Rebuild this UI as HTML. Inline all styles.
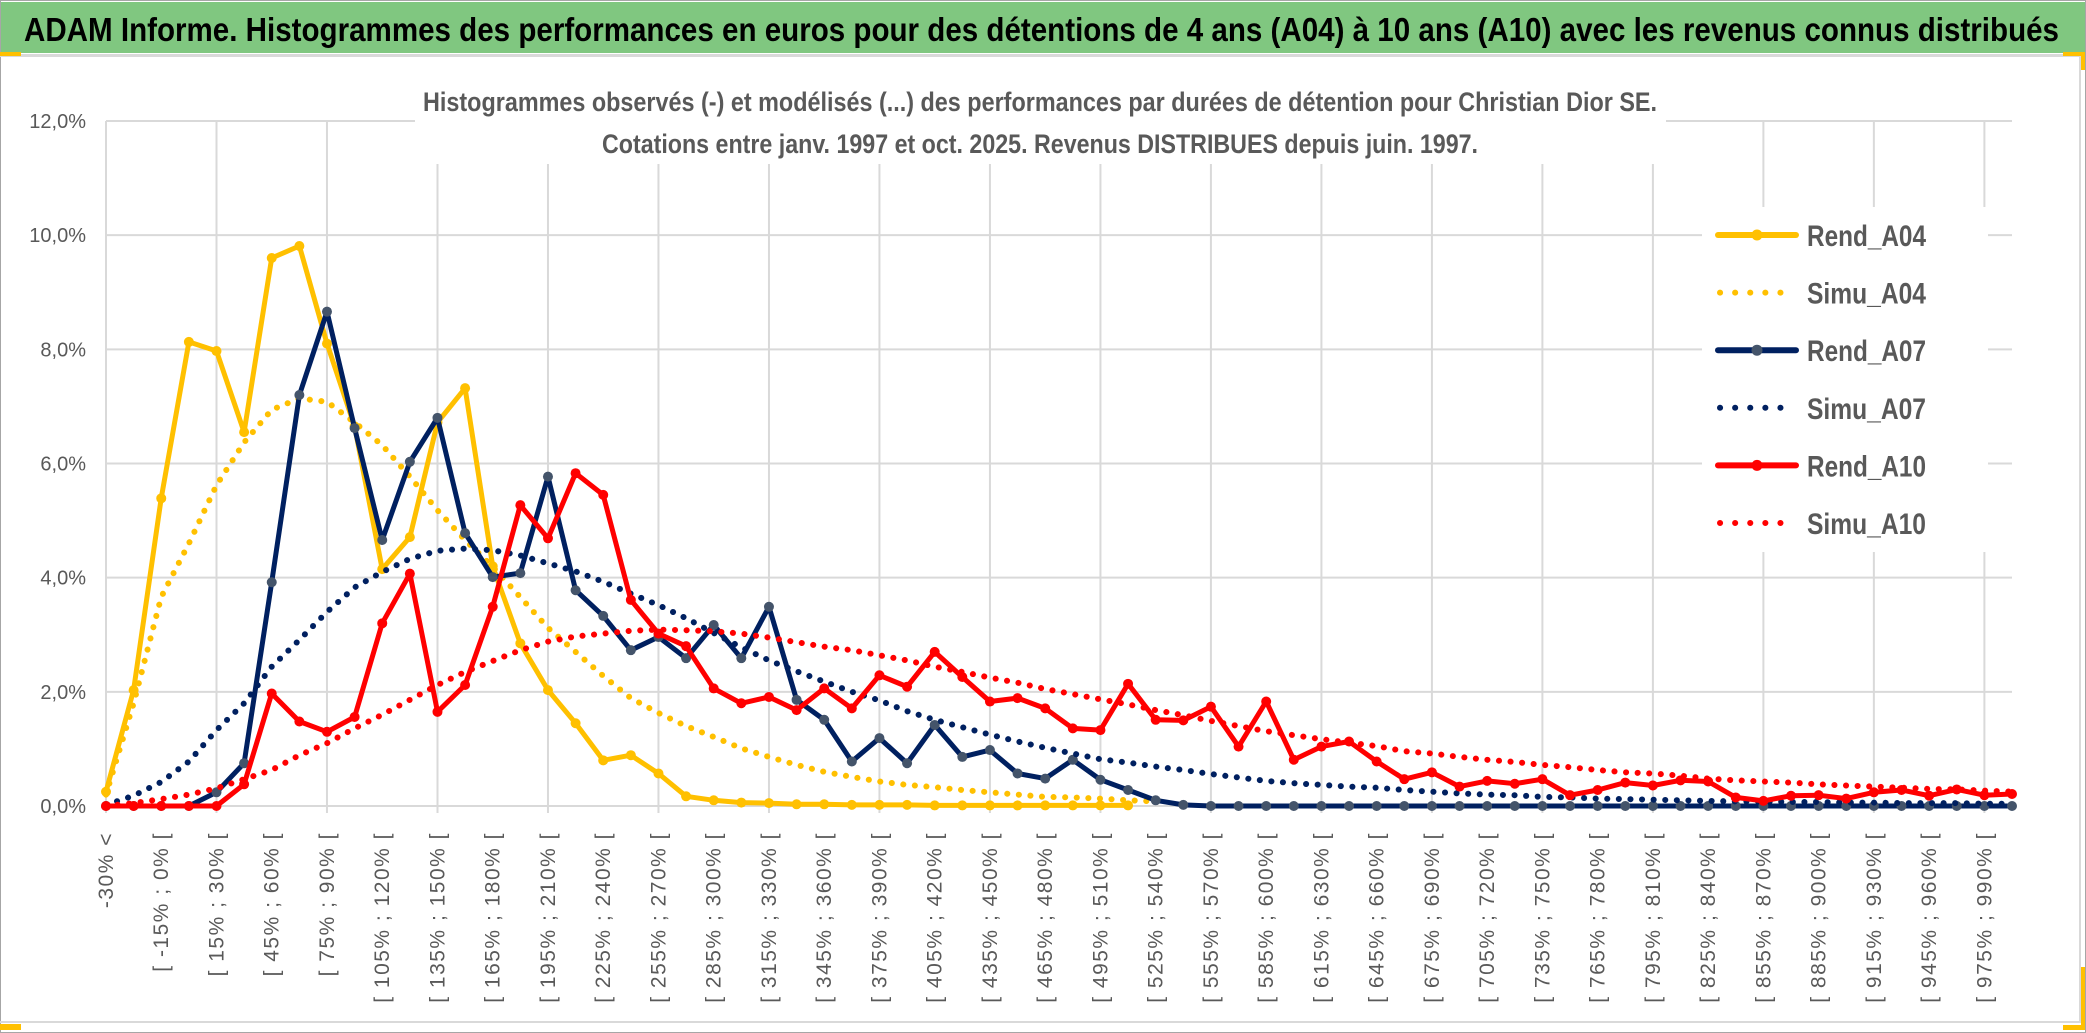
<!DOCTYPE html>
<html><head><meta charset="utf-8"><style>
html,body{margin:0;padding:0;background:#fff;}
svg{display:block;}
text{font-family:"Liberation Sans",sans-serif;}
</style></head><body>
<svg id="chart" xmlns="http://www.w3.org/2000/svg" width="2086" height="1033" viewBox="0 0 2086 1033">
  <rect x="0" y="0" width="2086" height="1033" fill="#ffffff"/>
  <rect x="0.5" y="0.5" width="2085" height="1032" fill="none" stroke="#a6a6a6" stroke-width="1"/>
  <rect x="1" y="2" width="2084" height="51" fill="#80c780"/>
  <rect x="0" y="54" width="2082" height="3" fill="#d9d9d9"/>
  <rect x="0" y="52" width="21" height="4" fill="#ffc000"/>
  <rect x="2063" y="52" width="22" height="4" fill="#ffc000"/>
  <rect x="2081" y="52" width="4" height="18" fill="#ffc000"/>
  <text x="24" y="41" font-size="33" font-weight="bold" fill="#000" textLength="2035" lengthAdjust="spacingAndGlyphs">ADAM Informe. Histogrammes des performances en euros pour des détentions de 4 ans (A04) à 10 ans (A10) avec les revenus connus distribués</text>
  <rect x="2079" y="57" width="2" height="966" fill="#d9d9d9"/>
  <rect x="0" y="1021" width="2081" height="2" fill="#d9d9d9"/>
  <rect x="0" y="1024" width="21" height="6" fill="#ffc000"/>
  <rect x="2081" y="967" width="4" height="63" fill="#ffc000"/>
  <rect x="2063" y="1025" width="22" height="5" fill="#ffc000"/>
  <g id="grid"></g>
  <g id="yaxis"></g>
  <g id="xaxis"></g>
  <rect x="415" y="60" width="1251" height="104" fill="#fff"/>
  <text x="423" y="111" font-size="27" font-weight="bold" fill="#595959" textLength="1234" lengthAdjust="spacingAndGlyphs">Histogrammes observés (-) et modélisés (...) des performances par durées de détention pour Christian Dior SE.</text>
  <text x="602" y="153" font-size="27" font-weight="bold" fill="#595959" textLength="876" lengthAdjust="spacingAndGlyphs">Cotations entre janv. 1997 et oct. 2025. Revenus DISTRIBUES depuis juin. 1997.</text>
  <g id="series"></g>
  <rect x="1702" y="207" width="286" height="345" fill="#fff"/>
  <g id="legend"></g>
</svg>
<script>
// ---- chart data (values in %) ----
const rendA04 = [0.25,2.03,5.39,8.13,7.97,6.55,9.6,9.81,8.1,6.65,4.15,4.71,6.72,7.32,4.2,2.85,2.03,1.45,0.8,0.89,0.57,0.17,0.1,0.06,0.05,0.03,0.03,0.02,0.02,0.02,0.01,0.01,0.01,0.01,0.01,0.01,0.01,0.01];
const simuA04 = [0.2,1.8,3.66,4.6,5.62,6.37,6.94,7.14,7.08,6.72,6.32,5.77,5.18,4.66,4.19,3.66,3.12,2.7,2.28,1.89,1.63,1.4,1.21,1.01,0.86,0.72,0.6,0.51,0.43,0.37,0.33,0.28,0.24,0.2,0.16,0.15,0.13,0.1,0.08];
const rendA07 = [0,0,0,0,0.24,0.75,3.92,7.2,8.66,6.62,4.66,6.03,6.8,4.78,4.01,4.08,5.77,3.78,3.33,2.73,2.96,2.59,3.17,2.59,3.49,1.86,1.51,0.78,1.19,0.75,1.42,0.86,0.98,0.57,0.48,0.81,0.46,0.28,0.1,0.02,0,0,0,0,0,0,0,0,0,0,0,0,0,0,0,0,0,0,0,0,0,0,0,0,0,0,0,0,0,0];
const simuA07 = [0.02,0.18,0.42,0.78,1.33,1.8,2.44,2.91,3.4,3.83,4.1,4.33,4.47,4.51,4.48,4.39,4.25,4.11,3.93,3.72,3.52,3.29,3.03,2.78,2.55,2.36,2.18,2.0,1.85,1.66,1.51,1.38,1.25,1.13,1.02,0.92,0.82,0.76,0.69,0.63,0.56,0.5,0.44,0.4,0.37,0.34,0.32,0.28,0.25,0.22,0.2,0.19,0.16,0.15,0.13,0.12,0.11,0.1,0.09,0.08,0.08,0.07,0.07,0.06,0.06,0.05,0.05,0.05,0.04,0.04];
const rendA10 = [0,0,0,0,0,0.38,1.97,1.48,1.3,1.56,3.2,4.07,1.65,2.12,3.49,5.27,4.69,5.83,5.45,3.61,3.02,2.8,2.06,1.8,1.91,1.68,2.06,1.71,2.29,2.09,2.7,2.26,1.83,1.89,1.71,1.36,1.33,2.14,1.51,1.5,1.74,1.04,1.83,0.81,1.04,1.13,0.78,0.47,0.59,0.34,0.44,0.39,0.47,0.19,0.28,0.41,0.36,0.45,0.43,0.15,0.09,0.18,0.19,0.13,0.24,0.28,0.18,0.29,0.19,0.21];
const simuA10 = [0,0.05,0.12,0.2,0.31,0.47,0.63,0.89,1.1,1.36,1.6,1.86,2.12,2.35,2.54,2.73,2.88,2.97,3.02,3.07,3.09,3.08,3.06,3.02,2.95,2.87,2.79,2.73,2.64,2.55,2.44,2.35,2.25,2.16,2.05,1.96,1.87,1.78,1.68,1.59,1.49,1.4,1.31,1.24,1.17,1.11,1.05,0.96,0.92,0.86,0.81,0.77,0.72,0.68,0.63,0.59,0.57,0.53,0.48,0.45,0.43,0.41,0.38,0.36,0.34,0.32,0.3,0.29,0.27,0.25];
const yTicks = [0,2,4,6,8,10,12];
const yTickLabels = ["0,0%","2,0%","4,0%","6,0%","8,0%","10,0%","12,0%"];
const categoryCount = 70;
const categoryLabels = ["-30% <"];
for (let k = 1; k < categoryCount; k++) {
  const lo = -30 + 15 * (k - 1);
  categoryLabels.push("[ " + lo + "% ; " + (lo + 15) + "% [");
}

// ---- axes ----
const NS = "http://www.w3.org/2000/svg";
const X0 = 106, X1 = 2012, Y0 = 806, YMAX = 121, VMAX = 12;
function xPos(i){ return X0 + i * (X1 - X0) / (categoryCount - 1); }
function yPos(v){ return Y0 - v * (Y0 - YMAX) / VMAX; }
function mk(tag, attrs, parent){
  const el = document.createElementNS(NS, tag);
  for (const k in attrs) el.setAttribute(k, attrs[k]);
  parent.appendChild(el);
  return el;
}
const grid = document.getElementById('grid');
const yaxis = document.getElementById('yaxis');
const xaxis = document.getElementById('xaxis');
yTicks.forEach((t, j) => {
  const ln = mk('line', {x1: X0, x2: X1, y1: yPos(t), y2: yPos(t), stroke: '#d9d9d9', 'stroke-width': 2}, grid);
  
  
  const tx = mk('text', {x: 86, y: yPos(t) + 7, 'font-size': 20, fill: '#595959', 'text-anchor': 'end'}, yaxis);
  
  
  tx.textContent = yTickLabels[j];
});
for (let i = 0; i < categoryCount; i++) {
  if (i % 4 === 0) {
    const g = mk('line', {x1: xPos(i), x2: xPos(i), y1: YMAX, y2: Y0 + 7, stroke: '#d9d9d9', 'stroke-width': 2}, grid);
    
    
  }
  if (i % 2 === 0) {
    const x = xPos(i) + 7, y = 832;
    const tx = mk('text', {x: x, y: y, 'font-size': 21, fill: '#595959', 'text-anchor': 'end', 'letter-spacing': 1.5, transform: 'rotate(-90 ' + x + ' ' + y + ')'}, xaxis);
    
    
    tx.textContent = categoryLabels[i];
  }
}

// ---- series ----
const seriesLayer = document.getElementById('series');
function pts(arr){ return arr.map((v, i) => xPos(i).toFixed(1) + ',' + yPos(v).toFixed(1)).join(' '); }
function drawSolid(arr, color, markerColor, name){
  const g = mk('g', {}, seriesLayer);
  
  
  const pl = mk('polyline', {points: pts(arr), fill: 'none', stroke: color, 'stroke-width': 5, 'stroke-linejoin': 'round', 'stroke-linecap': 'round'}, g);
  
  
  arr.forEach((v, i) => {
    const c = mk('circle', {cx: xPos(i), cy: yPos(v), r: 5, fill: markerColor}, g);
    
    
  });
}
function drawDotted(arr, color, name){
  const pl = mk('polyline', {points: pts(arr), fill: 'none', stroke: color, 'stroke-width': 6, 'stroke-linecap': 'round', 'stroke-linejoin': 'round', 'stroke-dasharray': '0.1 11.5'}, seriesLayer);
  
  
}
drawSolid(rendA04, '#ffc000', '#ffc000', 'rend-a04');
drawDotted(simuA04, '#ffc000', 'simu-a04');
drawSolid(rendA07, '#002060', '#44546a', 'rend-a07');
drawDotted(simuA07, '#002060', 'simu-a07');
drawSolid(rendA10, '#ff0000', '#ff0000', 'rend-a10');
drawDotted(simuA10, '#ff0000', 'simu-a10');

// ---- legend ----
const legend = document.getElementById('legend');
const legendNames = ["Rend_A04","Simu_A04","Rend_A07","Simu_A07","Rend_A10","Simu_A10"];
const legendColors = ['#ffc000','#ffc000','#002060','#002060','#ff0000','#ff0000'];
const legendMarkers = ['#ffc000',null,'#44546a',null,'#ff0000',null];
legendNames.forEach((nm, k) => {
  const y = 235 + k * 57.6;
  const g = mk('g', {}, legend);
  
  
  if (legendMarkers[k]) {
    mk('line', {x1: 1718, x2: 1796, y1: y, y2: y, stroke: legendColors[k], 'stroke-width': 6, 'stroke-linecap': 'round'}, g);
    mk('circle', {cx: 1757, cy: y, r: 5.5, fill: legendMarkers[k]}, g);
  } else {
    mk('line', {x1: 1720, x2: 1792, y1: y, y2: y, stroke: legendColors[k], 'stroke-width': 6, 'stroke-linecap': 'round', 'stroke-dasharray': '0.1 15'}, g);
  }
  const tx = mk('text', {x: 1807, y: y + 11, 'font-size': 30, 'font-weight': 'bold', fill: '#595959', textLength: 119, lengthAdjust: 'spacingAndGlyphs'}, g);
  
  
  tx.textContent = nm;
});
</script>
</body></html>
